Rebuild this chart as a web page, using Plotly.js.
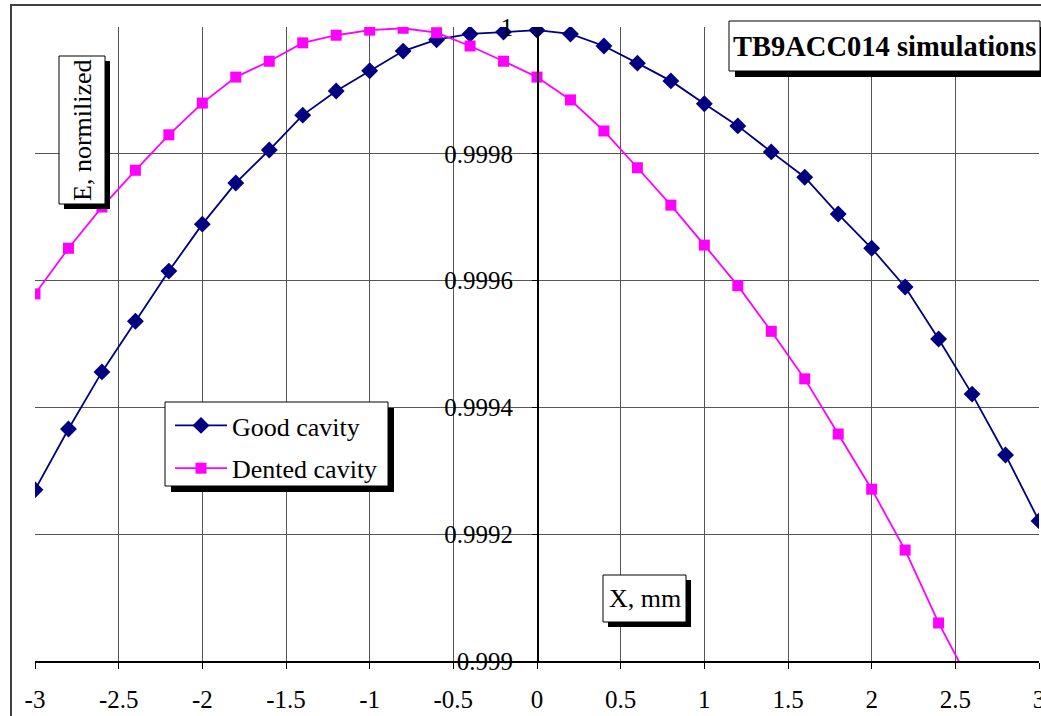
<!DOCTYPE html>
<html>
<head>
<meta charset="utf-8">
<script src="https://cdn.plot.ly/plotly-3.0.1.min.js"></script>
<style>html,body{margin:0;padding:0;background:#fff;}#chart{width:1041px;height:716px;}</style>
</head>
<body>
<div id="chart"></div>
<script>
// ---- data ----
const xGood = [-3,-2.8,-2.6,-2.4,-2.2,-2,-1.8,-1.6,-1.4,-1.2,-1,-0.8,-0.6,-0.4,-0.2,0,0.2,0.4,0.6,0.8,1,1.2,1.4,1.6,1.8,2,2.2,2.4,2.6,2.8,3];
const yGood = [0.99927,0.999366,0.999456,0.999536,0.999615,0.999689,0.999754,0.999806,0.999861,0.999899,0.999931,0.999962,0.99998,0.999989,0.999992,0.999995,0.999989,0.99997,0.999943,0.999915,0.999879,0.999844,0.999803,0.999763,0.999705,0.999651,0.99959,0.999508,0.999421,0.999325,0.999221];
const xDent = [-3,-2.8,-2.6,-2.4,-2.2,-2,-1.8,-1.6,-1.4,-1.2,-1,-0.8,-0.6,-0.4,-0.2,0,0.2,0.4,0.6,0.8,1,1.2,1.4,1.6,1.8,2,2.2,2.4,2.6];
const yDent = [0.999579,0.999651,0.999716,0.999774,0.99983,0.99988,0.999921,0.999946,0.999975,0.999987,0.999995,0.999998,0.999991,0.99997,0.999946,0.999921,0.999885,0.999836,0.999778,0.999719,0.999656,0.999592,0.99952,0.999445,0.999358,0.999271,0.999175,0.99906,0.99896];
const seriesNames = ["Good cavity","Dented cavity"];
const xTickVals = [-3,-2.5,-2,-1.5,-1,-0.5,0,0.5,1,1.5,2,2.5,3];
const xTickText = ["-3","-2.5","-2","-1.5","-1","-0.5","0","0.5","1","1.5","2","2.5","3"];
const yTickVals = [0.999,0.9992,0.9994,0.9996,0.9998,1];
const yTickText = ["0.999","0.9992","0.9994","0.9996","0.9998","1"];
const titleText = "TB9ACC014 simulations";
const xTitle = "X, mm";
const yTitle = "E, normilized";

// ---- layout helpers (pixel -> paper) ----
const L = 35, R = 1039, T = 27, B = 661;
const px = v => (v - L) / (R - L);
const py = v => (B - v) / (B - T);
const FONT = "Liberation Serif, Times New Roman, serif";

function boxShapes(x0, y0, x1, y1, off) {
  return [
    {type:'rect', xref:'paper', yref:'paper', layer:'above',
     x0:px(x0+off), x1:px(x1+off), y0:py(y0+off), y1:py(y1+off),
     fillcolor:'#000', line:{width:0}},
    {type:'rect', xref:'paper', yref:'paper', layer:'above',
     x0:px(x0), x1:px(x1), y0:py(y0), y1:py(y1),
     fillcolor:'#fff', line:{color:'#000', width:1}}
  ];
}

const traces = [
  {x:xGood, y:yGood, name:seriesNames[0], type:'scatter', mode:'lines+markers',
   legendgroup:'a', line:{color:'#000080', width:1.8},
   marker:{symbol:'diamond', size:13, color:'#000080'}, cliponaxis:true},
  {x:xDent, y:yDent, name:seriesNames[1], type:'scatter', mode:'lines+markers',
   legendgroup:'b', line:{color:'#FF00FF', width:1.8},
   marker:{symbol:'square', size:11, color:'#FF00FF'}, cliponaxis:true}
];

const shapes = [
  // outer chart border
  {type:'rect', xref:'paper', yref:'paper', layer:'above',
   x0:px(11), x1:px(1060), y0:py(5), y1:py(740),
   fillcolor:'rgba(0,0,0,0)', line:{color:'#404040', width:2}},
  ...boxShapes(729, 21, 1040, 71, 6),
  ...boxShapes(59, 56, 105, 204, 5),
  ...boxShapes(165, 402, 388, 486, 6),
  ...boxShapes(603, 575, 686, 622, 5)
];

const annotations = [
  {xref:'paper', yref:'paper', x:px(884.5), y:py(46), xanchor:'center', yanchor:'middle',
   text:'<b>'+titleText+'</b>', showarrow:false, font:{family:FONT, size:28.5, color:'#000'}},
  {xref:'paper', yref:'paper', x:px(82), y:py(130), xanchor:'center', yanchor:'middle',
   text:yTitle, textangle:-90, showarrow:false, font:{family:FONT, size:26, color:'#000'}},
  {xref:'paper', yref:'paper', x:px(644.5), y:py(598.5), xanchor:'center', yanchor:'middle',
   text:xTitle, showarrow:false, font:{family:FONT, size:26, color:'#000'}}
];

const layout = {
  width:1041, height:716,
  margin:{l:L, r:1041-R, t:T, b:716-B, pad:0},
  paper_bgcolor:'#fff', plot_bgcolor:'#fff',
  font:{family:FONT, size:25, color:'#000'},
  showlegend:true,
  legend:{x:px(170), y:py(402), xanchor:'left', yanchor:'top',
          bgcolor:'rgba(0,0,0,0)', borderwidth:0, itemwidth:52,
          traceorder:'grouped', tracegroupgap:6,
          font:{family:FONT, size:26, color:'#000'}},
  xaxis:{range:[-3,3], tickvals:xTickVals, ticktext:xTickText,
         showgrid:true, gridcolor:'#555', gridwidth:1,
         zeroline:false, showline:true, linecolor:'#000', linewidth:1.5,
         ticks:'outside', ticklen:6, tickcolor:'#000',
         ticklabelstandoff:9, ticklabeloverflow:'allow',
         tickfont:{family:FONT, size:25, color:'#000'}, fixedrange:true},
  yaxis:{range:[0.999,1], tickvals:yTickVals, ticktext:yTickText,
         anchor:'free', position:0.5, side:'left',
         showgrid:true, gridcolor:'#555', gridwidth:1,
         zeroline:false, showline:true, linecolor:'#000', linewidth:1.5,
         ticks:'outside', ticklen:5, tickcolor:'#000',
         ticklabelstandoff:14, ticklabeloverflow:'allow',
         tickfont:{family:FONT, size:25, color:'#000'}, fixedrange:true},
  shapes:shapes,
  annotations:annotations
};

Plotly.newPlot('chart', traces, layout, {displayModeBar:false, staticPlot:true});
</script>
</body>
</html>
